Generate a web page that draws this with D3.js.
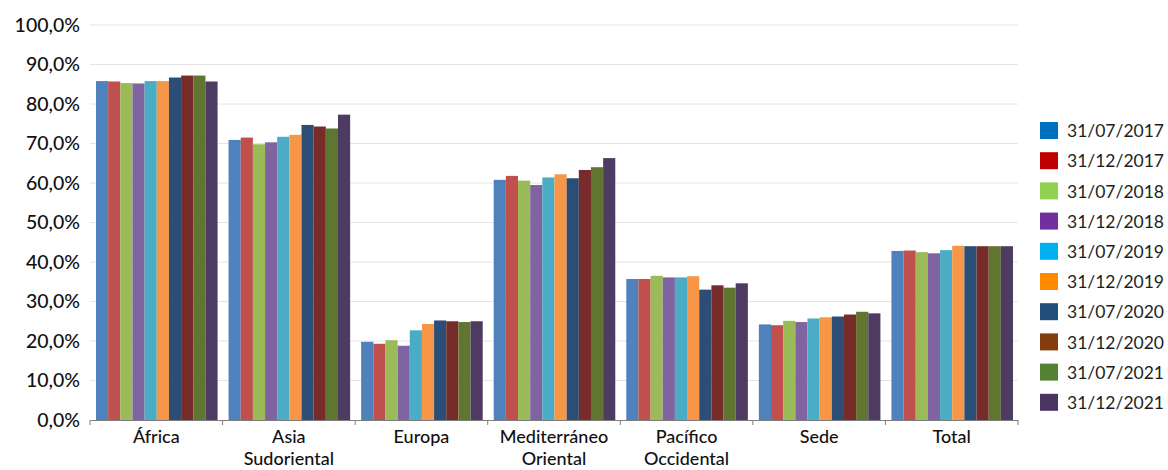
<!DOCTYPE html>
<html>
<head>
<meta charset="utf-8">
<script src="https://cdn.jsdelivr.net/npm/d3@7"></script>
<style>
  body { margin: 0; background: #fff; }
  svg { display: block; font-family: Lato, "Open Sans", sans-serif; }
</style>
</head>
<body>
<div id="chart"></div>
<script>
// Regions (x categories) and reporting dates (series)
const regions = ['África', 'Asia\nSudoriental', 'Europa', 'Mediterráneo\nOriental', 'Pacífico\nOccidental', 'Sede', 'Total'];
const dates = ['31/07/2017', '31/12/2017', '31/07/2018', '31/12/2018', '31/07/2019',
               '31/12/2019', '31/07/2020', '31/12/2020', '31/07/2021', '31/12/2021'];

// one array per region, one value per date (share, 0..1)
const africa       = [0.858, 0.857, 0.853, 0.852, 0.858, 0.858, 0.867, 0.872, 0.872, 0.857];
const asiaSE       = [0.709, 0.715, 0.698, 0.703, 0.717, 0.722, 0.747, 0.743, 0.738, 0.773];
const europa       = [0.198, 0.193, 0.202, 0.188, 0.227, 0.243, 0.252, 0.250, 0.248, 0.250];
const mediterraneo = [0.608, 0.618, 0.606, 0.595, 0.614, 0.622, 0.612, 0.633, 0.640, 0.663];
const pacifico     = [0.357, 0.357, 0.365, 0.361, 0.361, 0.364, 0.330, 0.341, 0.335, 0.346];
const sede         = [0.242, 0.240, 0.251, 0.248, 0.257, 0.260, 0.262, 0.267, 0.274, 0.270];
const total        = [0.428, 0.429, 0.425, 0.422, 0.430, 0.441, 0.440, 0.440, 0.440, 0.440];
const values = [africa, asiaSE, europa, mediterraneo, pacifico, sede, total];

const yTicks = [0, 0.1, 0.2, 0.3, 0.4, 0.5, 0.6, 0.7, 0.8, 0.9, 1.0];

// bar colours vs legend swatch colours (they differ in the original)
const barColors = ['#4f81bd', '#c0504d', '#9bbb59', '#8064a2', '#4bacc6',
                   '#f79646', '#2c4d75', '#772c2a', '#5f7530', '#4d3b62'];
const legendColors = ['#0070c0', '#c00000', '#92d050', '#7030a0', '#00b0f0',
                      '#ff8c00', '#1f4e79', '#843c0c', '#548235', '#4a3560'];

const w = 1168, h = 470;
const m = {top: 25, right: 150, bottom: 50, left: 90};

const svg = d3.select('#chart').append('svg')
  .attr('width', w).attr('height', h);

const x0 = d3.scaleBand().domain(regions).range([m.left, 1018]).paddingInner(0).paddingOuter(0);
const x1 = d3.scaleBand().domain(dates).range([6, x0.bandwidth() - 5]).padding(0);
const y = d3.scaleLinear().domain([0, 1]).range([h - m.bottom, m.top]);

// gridlines
svg.append('g').selectAll('line')
  .data(yTicks.slice(1)).enter().append('line')
  .attr('x1', m.left).attr('x2', 1018)
  .attr('y1', d => y(d)).attr('y2', d => y(d))
  .attr('stroke', '#e4e4e4').attr('stroke-width', 1);

// y tick labels
const fmt = d => d3.format('.1f')(d * 100).replace('.', ',') + '%';
svg.append('g').selectAll('text')
  .data(yTicks).enter().append('text')
  .attr('x', 80).attr('y', d => y(d)).attr('dy', '0.35em')
  .attr('text-anchor', 'end').attr('font-size', 19.5).attr('font-weight', 500).attr('fill', '#111')
  .text(fmt);

// bars
const groups = svg.append('g').selectAll('g')
  .data(regions).enter().append('g')
  .attr('transform', d => `translate(${x0(d)},0)`);
groups.selectAll('rect')
  .data((d, i) => values[i].map((v, j) => ({date: dates[j], v, j})))
  .enter().append('rect')
  .attr('x', d => x1(d.date)).attr('width', x1.bandwidth())
  .attr('y', d => y(d.v)).attr('height', d => y(0) - y(d.v))
  .attr('fill', d => barColors[d.j]);

// x axis
const xAxis = svg.append('g').attr('transform', `translate(0,${y(0)})`)
  .call(d3.axisBottom(x0).tickSize(0).tickFormat(''));
xAxis.select('.domain').attr('stroke', '#7f7f7f').attr('stroke-width', 1.2);
svg.append('g').selectAll('line')
  .data(d3.range(regions.length + 1)).enter().append('line')
  .attr('x1', i => m.left + i * x0.step()).attr('x2', i => m.left + i * x0.step())
  .attr('y1', y(0)).attr('y2', y(0) + 5)
  .attr('stroke', '#7f7f7f');

// category labels (can wrap to 2 lines)
const labels = svg.append('g').selectAll('text')
  .data(regions).enter().append('text')
  .attr('x', d => x0(d) + x0.bandwidth() / 2)
  .attr('text-anchor', 'middle').attr('font-size', 18).attr('font-weight', 500).attr('fill', '#111');
labels.selectAll('tspan')
  .data(d => d.split('\n')).enter().append('tspan')
  .attr('x', function() { return this.parentNode.getAttribute('x'); })
  .attr('y', (d, i) => 443 + i * 22)
  .text(d => d);

// legend
const lg = svg.append('g').attr('transform', 'translate(1040,122)');
const item = lg.selectAll('g')
  .data(dates).enter().append('g')
  .attr('transform', (d, i) => `translate(0,${i * 30.2})`);
item.append('rect')
  .attr('width', 18).attr('height', 17)
  .attr('fill', (d, i) => legendColors[i]);
item.append('text')
  .attr('x', 27).attr('y', 9).attr('dy', '0.35em')
  .attr('font-size', 17.5).attr('fill', '#1e1e1e')
  .text(d => d);
</script>
</body>
</html>
